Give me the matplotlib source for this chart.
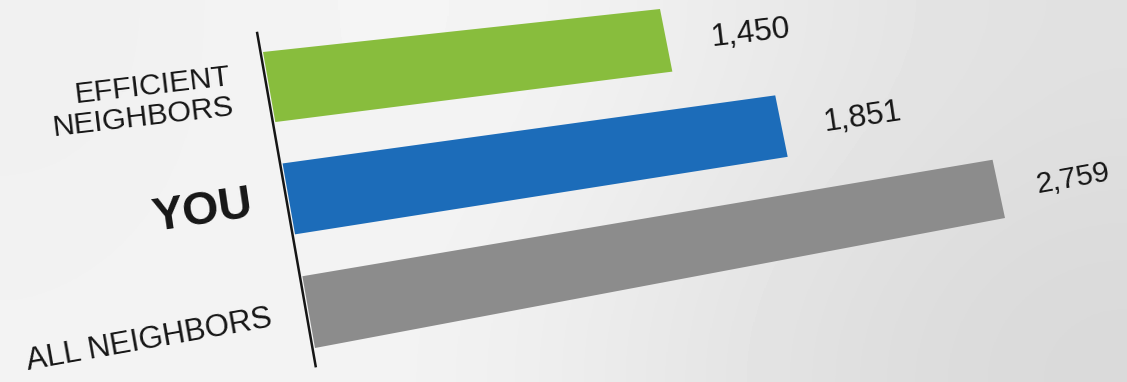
import numpy as np
import matplotlib
matplotlib.use("Agg")
import matplotlib.pyplot as plt
from matplotlib.transforms import Transform

plt.rcParams['font.family'] = ['Liberation Sans', 'DejaVu Sans']

# ---- data ----
categories = ["ALL NEIGHBORS", "YOU", "EFFICIENT\nNEIGHBORS"]
values = [2759, 1851, 1450]
value_labels = ["2,759", "1,851", "1,450"]
bar_colors = ["#8c8c8c", "#1c6cb9", "#88bd3d"]
label_weights = ["normal", "bold", "normal"]
label_sizes = [20.5, 31, 20.5]

W, H = 1127, 382
BAR_H = 0.63


class Perspective(Transform):
    """projective warp in display space (photo taken at an angle)"""
    input_dims = output_dims = 2

    def __init__(self, M):
        super().__init__()
        self.M = M

    def transform_non_affine(self, xy):
        xy = np.atleast_2d(np.asarray(xy, dtype=float))
        p = np.column_stack([xy, np.ones(len(xy))]) @ self.M.T
        return p[:, :2] / p[:, 2:3]


def homography(src, dst):
    A, b = [], []
    for (x, y), (u, v) in zip(src, dst):
        A.append([x, y, 1, 0, 0, 0, -u * x, -u * y]); b.append(u)
        A.append([0, 0, 0, x, y, 1, -v * x, -v * y]); b.append(v)
    h = np.linalg.solve(np.array(A), np.array(b))
    return np.append(h, 1).reshape(3, 3)


fig = plt.figure(figsize=(W / 100, H / 100), dpi=100)

# paper background, a bit darker to the right
bg = fig.add_axes([0, 0, 1, 1], zorder=-1)
shade = np.array([[0.94, 0.97, 0.93, 0.88],
                  [0.95, 0.96, 0.90, 0.85]])
bg.imshow(shade, cmap='gray', vmin=0, vmax=1, aspect='auto',
          interpolation='bicubic', extent=[0, 1, 0, 1])
bg.axis('off')

ax = fig.add_axes([260 / W, 32 / H, 740 / W, 320 / H])
ax.set_xlim(0, 2800)
ax.set_ylim(-0.5, 2.5)
ax.axis('off')

# corners of the outer bars -> where they sit in the photo
flat_pts = [(0, 2 + BAR_H / 2), (values[2], 2 + BAR_H / 2),
            (0, -BAR_H / 2), (values[0], -BAR_H / 2)]
photo_pts = [(263, 52), (660, 9), (315, 348), (1005, 218)]
src = ax.transData.transform(flat_pts)
dst = [(u, H - v) for u, v in photo_pts]
warp = ax.transData + Perspective(homography(src, dst))


def local_scale(x, y):
    a = warp.transform([(x, y - 0.05), (x, y + 0.05)])
    b = ax.transData.transform([(x, y - 0.05), (x, y + 0.05)])
    return np.hypot(*(a[1] - a[0])) / np.hypot(*(b[1] - b[0]))


ypos = np.arange(len(categories))
bars = ax.barh(ypos, values, height=BAR_H, color=bar_colors)
for b in bars:
    b.set_transform(warp)
    b.set_clip_on(False)

# vertical axis line
ax.plot([-8, -8], [-0.48, 2.5], color='#151515', lw=1.8,
        transform=warp, clip_on=False, solid_capstyle='butt')

for i, (cat, v, lab) in enumerate(zip(categories, values, value_labels)):
    s = local_scale(-120, i)
    ax.text(-120, i, cat, transform=warp, ha='right', va='center',
            rotation_mode='anchor', transform_rotates_text=True,
            fontsize=label_sizes[i] * s, fontweight=label_weights[i],
            color='#161616', linespacing=1.1, clip_on=False)
    s = local_scale(v + 185, i)
    ax.text(v + 185, i - 0.03, lab, transform=warp, ha='left', va='center',
            rotation_mode='anchor', transform_rotates_text=True,
            fontsize=24.5 * s, color='#161616', clip_on=False)

fig.savefig('out.png', dpi=100)
